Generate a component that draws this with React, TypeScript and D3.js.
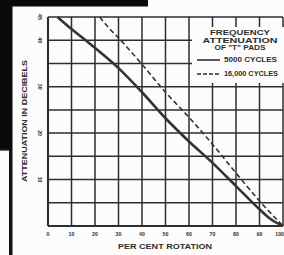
import React from 'react';
import * as d3 from 'd3';

// Percent rotation vs attenuation (dB)
const xTicks = [0, 10, 20, 30, 40, 50, 60, 70, 80, 90, 100];
const yGrid = [0, 5, 10, 15, 20, 25, 30, 35, 40, 45];
const yLabels = [10, 20, 30, 40, 45];

const solid5000: [number, number][] = [
  [4, 45], [10, 42.4], [16, 40], [22, 37.5], [30, 34], [40, 28.8], [50, 23.2],
  [60, 18.2], [70, 13.6], [80, 8.6], [90, 3.6], [95, 1.4], [100, 0],
];
const dashed16000: [number, number][] = [
  [22, 45], [26, 42.6], [30, 40.5], [40, 34.8], [50, 28.8], [60, 23.4],
  [70, 17.6], [80, 11.4], [90, 5.4], [100, 0],
];

const W = 284;
const H = 255;
const ink = '#2e2e2e';
const font = '"Liberation Sans", Arial, sans-serif';

const App: React.FC = () => {
  const x = d3.scaleLinear().domain([0, 100]).range([48, 283]);
  const y = d3.scaleLinear().domain([0, 45]).range([226, 17]);

  const line = d3.line<[number, number]>()
    .x(d => x(d[0]))
    .y(d => y(d[1]))
    .curve(d3.curveMonotoneX);

  return (
    <svg width={W} height={H} style={{ position: 'absolute', left: 0, top: 0 }}>
      <rect x={0} y={0} width={W} height={H} fill="#fcfcfc" />

      {/* scan edges */}
      <rect x={0} y={0} width={148} height={6.5} fill="#0a0a0a" />
      <rect x={0} y={0} width={12.5} height={150} fill="#0a0a0a" />
      <rect x={9} y={150} width={3.5} height={105} fill="#111" />
      <rect x={0} y={149.5} width={9} height={1.2} fill="#333" />

      {/* grid */}
      {xTicks.map(t => (
        <line key={'vx' + t} x1={x(t)} x2={x(t)} y1={y(45)} y2={y(0)}
          stroke={ink} strokeWidth={t === 0 ? 2.1 : 1.5} />
      ))}
      {yGrid.map(t => (
        <line key={'hy' + t} x1={x(0)} x2={x(100)} y1={y(t)} y2={y(t)}
          stroke={ink} strokeWidth={t === 0 ? 2.1 : 1.5} />
      ))}

      {/* legend box */}
      <rect x={192} y={27} width={92} height={56} fill="#fcfcfc" />
      <g fontFamily={font} fontWeight="bold" fill={ink} fontSize={6.3} textAnchor="middle">
        <text x={240} y={35} textLength={60} lengthAdjust="spacingAndGlyphs">FREQUENCY</text>
        <text x={240} y={42.5} textLength={75} lengthAdjust="spacingAndGlyphs">ATTENUATION</text>
        <text x={240} y={50} textLength={51} lengthAdjust="spacingAndGlyphs">OF "T" PADS</text>
      </g>
      <line x1={197} x2={220} y1={60} y2={60} stroke={ink} strokeWidth={1.6} />
      <line x1={197} x2={220} y1={74} y2={74} stroke={ink} strokeWidth={1.4} strokeDasharray="4 2" />
      <g fontFamily={font} fontWeight="bold" fill={ink} fontSize={6.3}>
        <text x={224} y={62.3} textLength={53} lengthAdjust="spacingAndGlyphs">5000 CYCLES</text>
        <text x={224} y={76.3} textLength={54} lengthAdjust="spacingAndGlyphs">16,000 CYCLES</text>
      </g>

      {/* curves */}
      <path d={line(solid5000) || ''} fill="none" stroke="#333" strokeWidth={2.6} />
      <path d={line(dashed16000) || ''} fill="none" stroke="#333" strokeWidth={1.6} strokeDasharray="5 3" />

      {/* tick labels */}
      <g fontFamily={font} fontWeight="bold" fill={ink} fontSize={5.2} textAnchor="middle">
        {xTicks.map(t => (
          <text key={'xl' + t} x={t === 100 ? 284 : x(t)} y={235.5}
            textAnchor={t === 100 ? 'end' : 'middle'}>{t}</text>
        ))}
        {yLabels.map(t => (
          <text key={'yl' + t} transform={`translate(40,${y(t)}) rotate(90)`} dy={1.8}>{t}</text>
        ))}
      </g>

      {/* axis titles */}
      <g fontFamily={font} fontWeight="bold" fill={ink} fontSize={6.5} textAnchor="middle">
        <text transform="translate(27,121) rotate(-90)" textLength={122} lengthAdjust="spacingAndGlyphs">
          ATTENUATION IN DECIBELS
        </text>
        <text x={165} y={249} textLength={94} lengthAdjust="spacingAndGlyphs">PER CENT ROTATION</text>
      </g>
    </svg>
  );
};

export default App;
